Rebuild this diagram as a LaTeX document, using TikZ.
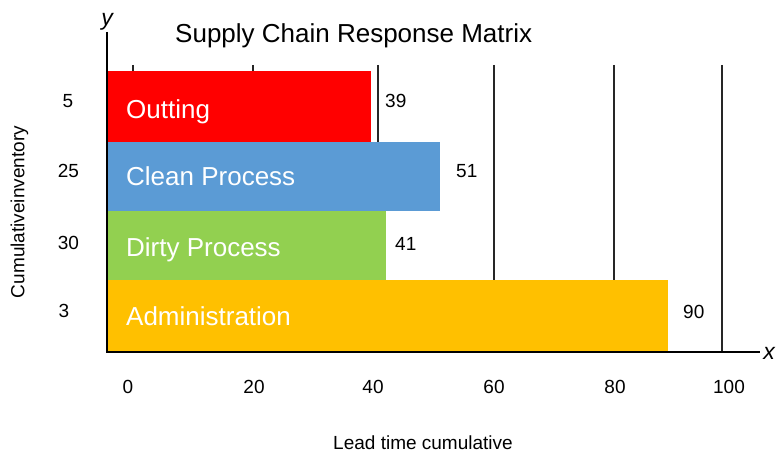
\documentclass[tikz,border=0pt]{standalone}
\usepackage{fontspec}
\setmainfont{Liberation Sans}
\definecolor{barred}{HTML}{FF0000}
\definecolor{barblue}{HTML}{5B9BD5}
\definecolor{bargreen}{HTML}{92D050}
\definecolor{baryellow}{HTML}{FFC000}
\begin{document}
\begin{tikzpicture}[x=1pt,y=-1pt,
  barlabel/.style={text=white, font=\fontsize{26}{30}\selectfont, anchor=base west, inner sep=0pt},
  numlabel/.style={font=\fontsize{19}{22}\selectfont, anchor=base west, inner sep=0pt},
  ticklabel/.style={font=\fontsize{19}{22}\selectfont, anchor=base, inner sep=0pt},
  gridline/.style={line width=1.4pt, black!85},
  axisline/.style={line width=1.5pt, black},
  axisname/.style={font=\fontsize{23}{28}\selectfont\itshape, inner sep=0pt}]
\useasboundingbox (0,0) rectangle (776,452);
% bars
\fill[barred] (107,71) rectangle (371,142);
\fill[barblue] (107,142) rectangle (440,211);
\fill[bargreen] (107,211) rectangle (386,280);
\fill[baryellow] (107,280) rectangle (668,352);
% grid lines
\coordinate (g1a) at (133,65); \coordinate (g1b) at (133,71);
\coordinate (g2a) at (253,65); \coordinate (g2b) at (253,71);
\coordinate (g3a) at (378,65); \coordinate (g3b) at (378,142);
\coordinate (g4a) at (494,65); \coordinate (g4b) at (494,280);
\coordinate (g5a) at (614,65); \coordinate (g5b) at (614,280);
\coordinate (g6a) at (722,65); \coordinate (g6b) at (722,352);
\draw[gridline] (g1a) -- (g1b);
\draw[gridline] (g2a) -- (g2b);
\draw[gridline] (g3a) -- (g3b);
\draw[gridline] (g4a) -- (g4b);
\draw[gridline] (g5a) -- (g5b);
\draw[gridline] (g6a) -- (g6b);
% axes
\coordinate (origin) at (107,352);
\coordinate (ytop) at (107,32);
\coordinate (xend) at (760,352);
\draw[axisline] (ytop) -- (origin) -- (xend);
\node[axisname, anchor=base] (ylab) at (107,26) {y};
\node[axisname, anchor=base east] (xlab) at (775,359) {x};
% title
\node[font=\fontsize{26}{30}\selectfont, anchor=base west, inner sep=0pt] (title) at (175,43) {Supply Chain Response Matrix};
% bar labels
\node[barlabel] (outting) at (126,118) {Outting};
\node[barlabel] (clean) at (126,185) {Clean Process};
\node[barlabel] (dirty) at (126,256) {Dirty Process};
\node[barlabel] (admin) at (126,325) {Administration};
% value labels
\node[numlabel] (v39) at (385,107) {39};
\node[numlabel] (v51) at (456,177) {51};
\node[numlabel] (v41) at (395,250) {41};
\node[numlabel] (v90) at (683,318) {90};
% inventory labels
\node[ticklabel] (i5) at (68,107) {5};
\node[ticklabel] (i25) at (68.5,177) {25};
\node[ticklabel] (i30) at (68.5,249) {30};
\node[ticklabel] (i3) at (64,317) {3};
% x tick labels
\node[ticklabel] (t0) at (128,393) {0};
\node[ticklabel] (t20) at (254,393) {20};
\node[ticklabel] (t40) at (373,393) {40};
\node[ticklabel] (t60) at (494,393) {60};
\node[ticklabel] (t80) at (615,393) {80};
\node[ticklabel] (t100) at (729,393) {100};
% axis titles
\node[font=\fontsize{19}{23}\selectfont, anchor=base, inner sep=0pt] (xtitle) at (423,449) {Lead time cumulative};
\node[font=\fontsize{19}{23}\selectfont, rotate=90, inner sep=0pt] (ytitle) at (19.5,212) {Cumulativeinventory};
\end{tikzpicture}
\end{document}
